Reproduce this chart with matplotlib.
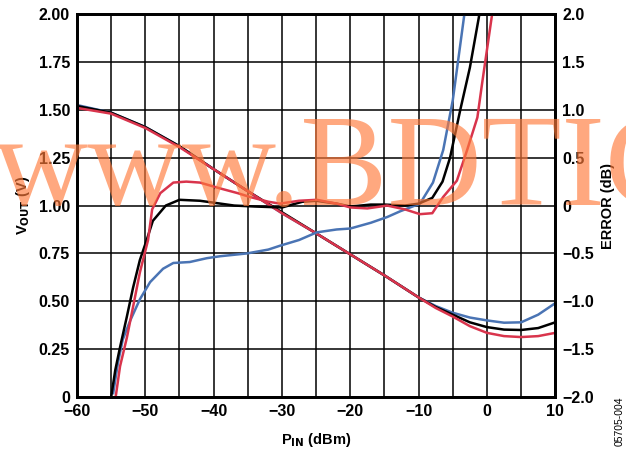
import matplotlib
matplotlib.use('Agg')
import matplotlib.pyplot as plt

# Vout (left axis, V) vs Pin (dBm)
pin_v = [-60, -55, -50, -45, -40, -35, -30, -25, -20, -15, -10, -7.5, -5, -2.5, 0, 2.5, 5, 7.5, 10]
vout_blue = [1.525, 1.485, 1.41, 1.31, 1.19, 1.075, 0.96, 0.855, 0.745, 0.635, 0.52, 0.475, 0.44, 0.415, 0.40, 0.388, 0.39, 0.43, 0.49]
vout_black = [1.52, 1.485, 1.41, 1.31, 1.19, 1.075, 0.965, 0.855, 0.745, 0.635, 0.52, 0.47, 0.43, 0.39, 0.365, 0.352, 0.35, 0.36, 0.39]
vout_red = [1.51, 1.48, 1.405, 1.305, 1.19, 1.075, 0.96, 0.855, 0.745, 0.635, 0.52, 0.465, 0.42, 0.37, 0.335, 0.318, 0.313, 0.318, 0.335]

# Error (right axis, dB)
pin_eb = [-54.7, -54, -53.3, -52.2, -50.8, -49.3, -47.4, -45.9, -43.5, -41, -39.1, -35.1, -32, -30.3, -27.5, -24.9,
          -22, -20, -17, -14.6, -12.7, -9.8, -7.9, -6.4, -5, -3.3]
err_blue = [-1.96, -1.64, -1.4, -1.2, -0.98, -0.8, -0.66, -0.6, -0.59, -0.55, -0.53, -0.5, -0.46, -0.42, -0.36, -0.28,
            -0.25, -0.24, -0.18, -0.12, -0.06, 0.02, 0.24, 0.58, 1.1, 2.0]
pin_ek = [-55.0, -54.4, -53.7, -52.7, -51.8, -50.8, -49.8, -48.9, -47, -45, -42, -40, -37, -34, -30, -27, -25, -22,
          -20, -17, -15, -12, -10, -8, -6.5, -5.4, -3.9, -2.5, -1.1]
err_black = [-2.0, -1.72, -1.48, -1.16, -0.86, -0.57, -0.36, -0.16, 0.0, 0.06, 0.05, 0.03, 0.0, -0.01, -0.02, 0.04,
             0.05, 0.02, -0.01, 0.01, 0.01, 0.0, 0.02, 0.08, 0.25, 0.5, 1.0, 1.44, 2.0]
pin_er = [-54.3, -53.7, -52.7, -51.8, -50.8, -49.6, -49, -47.8, -45.9, -44, -42, -39.1, -36.5, -34.7, -32, -30.3,
          -27.5, -24.9, -22, -20, -17.5, -14.6, -12, -9.8, -8, -6.4, -4.4, -2.9, -1.4, -0.7, 0.76]
err_red = [-1.98, -1.68, -1.38, -1.06, -0.7, -0.36, -0.04, 0.13, 0.24, 0.25, 0.24, 0.18, 0.13, 0.09, 0.04, 0.02,
           0.05, 0.06, 0.02, -0.02, -0.03, 0.0, -0.04, -0.09, -0.08, 0.09, 0.26, 0.58, 0.92, 1.28, 2.0]

blue = '#4a74b4'
red = '#d9344c'
font = 'Liberation Sans'

fig = plt.figure(figsize=(6.26, 4.55), dpi=100)
ax = fig.add_axes([0.123, 0.1275, 0.764, 0.8415])
ax2 = ax.twinx()

ax.plot(pin_v, vout_blue, color=blue, lw=1.8)
ax.plot(pin_v, vout_black, color='black', lw=1.8)
ax.plot(pin_v, vout_red, color=red, lw=1.8)
ax2.plot(pin_eb, err_blue, color=blue, lw=1.8)
ax2.plot(pin_ek, err_black, color='black', lw=1.8)
ax2.plot(pin_er, err_red, color=red, lw=1.8)

ax.set_xlim(-60, 10)
ax.set_ylim(0, 2)
ax2.set_ylim(-2, 2)

ax.set_xticks(range(-60, 11, 5), minor=False)
ax.set_xticklabels([('\u2212' + str(-v) if v < 0 else str(v)) if v % 10 == 0 else ''
                    for v in range(-60, 11, 5)])
ax.set_yticks([0, 0.25, 0.5, 0.75, 1.0, 1.25, 1.5, 1.75, 2.0])
ax.set_yticklabels(['0', '0.25', '0.50', '0.75', '1.00', '1.25', '1.50', '1.75', '2.00'])
ax2.set_yticks([-2, -1.5, -1, -0.5, 0, 0.5, 1, 1.5, 2])
ax2.set_yticklabels(['\u22122.0', '\u22121.5', '\u22121.0', '\u22120.5', '0', '0.5', '1.0', '1.5', '2.0'])

ax.grid(True, color='black', lw=1.1)
for a in (ax, ax2):
    a.tick_params(length=0, pad=5, labelsize=11.5)
    for lab in a.get_xticklabels() + a.get_yticklabels():
        lab.set_fontweight('bold')
        lab.set_family(font)
    for s in a.spines.values():
        s.set_linewidth(2)

ax.set_xlabel('P$_{\\mathbf{IN}}$ (dBm)', fontsize=10.5, fontweight='bold', family=font, labelpad=9)
ax.set_ylabel('V$_{\\mathbf{OUT}}$ (V)', fontsize=10.5, fontweight='bold', family=font, labelpad=5)
ax2.set_ylabel('ERROR (dB)', fontsize=10.5, fontweight='bold', family=font, labelpad=5)

fig.text(0.99, 0.02, '05705-004', rotation=90, fontsize=7.5, family=font, ha='center', va='bottom')

fig.text(-0.01, 0.55, 'www.BDTIC', fontsize=94, family='Liberation Serif', color='#ff7a3a', alpha=0.65,
         ha='left', va='baseline', zorder=10)

fig.savefig('out.png', dpi=100)
